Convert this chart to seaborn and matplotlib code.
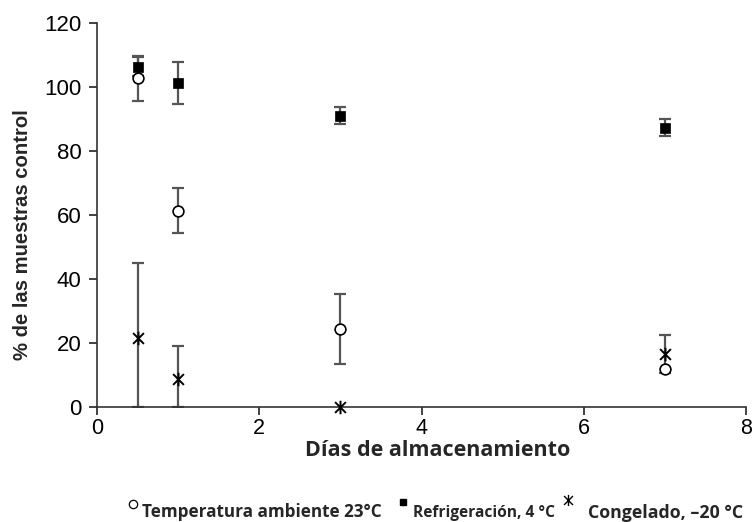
import matplotlib
matplotlib.use("Agg")
import matplotlib.pyplot as plt
from matplotlib.lines import Line2D
from matplotlib.path import Path
import seaborn as sns
import pandas as pd
import numpy as np

# ---- data ----
dias = [0.5, 1, 3, 7]
temp_ambiente = [102.7, 61.4, 24.3, 12.0]
temp_ambiente_err = [7.0, 7.0, 11.0, 0.0]
refrigeracion = [106.3, 101.3, 91.0, 87.3]
refrigeracion_err = [3.0, 6.5, 2.7, 2.7]
congelado = [21.5, 8.8, 0.0, 16.6]
congelado_err = [23.5, 10.3, 0.0, 6.0]

x_ticks = [0, 2, 4, 6, 8]
y_ticks = [0, 20, 40, 60, 80, 100, 120]

etiqueta_x = "Días de almacenamiento"
etiqueta_y = "% de las muestras control"
etiqueta_temp = "Temperatura ambiente 23°C"
etiqueta_refr = "Refrigeración, 4 °C"
etiqueta_cong = "Congelado, \u201320 °C"

sns.set_style("ticks")
plt.rcParams["font.family"] = ["Liberation Sans", "DejaVu Sans"]

# asterisk-like marker: an X with a vertical stroke
asterisco = Path([(-1, -1), (1, 1), (-1, 1), (1, -1), (0, -1.25), (0, 1.25)],
                 [Path.MOVETO, Path.LINETO, Path.MOVETO, Path.LINETO, Path.MOVETO, Path.LINETO])

fig = plt.figure(figsize=(7.54, 5.22), dpi=100)
ax = fig.add_axes([97 / 754, 1 - 407 / 522, 649 / 754, 384 / 522])

series = [
    (temp_ambiente, temp_ambiente_err, dict(marker="o", color="white", edgecolor="black", linewidth=1.2, s=60)),
    (refrigeracion, refrigeracion_err, dict(marker="s", color="black", edgecolor="black", linewidth=0.5, s=42)),
    (congelado, congelado_err, dict(marker=asterisco, color="black", edgecolor="black", linewidth=1.4, s=95)),
]

for vals, errs, kw in series:
    v = np.array(vals)
    e = np.array(errs)
    lower = np.minimum(e, v)
    mask = e > 0
    if mask.any():
        ax.errorbar(np.array(dias)[mask], v[mask], yerr=[lower[mask], e[mask]],
                    fmt="none", ecolor="#555555", elinewidth=1.6, capsize=4.2,
                    capthick=1.6, zorder=2)
    df = pd.DataFrame({"dias": dias, "valor": vals})
    sns.scatterplot(data=df, x="dias", y="valor", ax=ax, zorder=3, clip_on=False, legend=False, **kw)

ax.set_xlim(0, 8)
ax.set_ylim(0, 120)
ax.set_xticks(x_ticks)
ax.set_yticks(y_ticks)
ax.tick_params(axis="both", labelsize=16, length=6, width=1.2, colors="#222222",
               labelcolor="black", direction="out")
ax.tick_params(axis="y", pad=5)
ax.tick_params(axis="x", pad=2, labelsize=15.5)
for s in ["left", "bottom"]:
    ax.spines[s].set_linewidth(1.2)
    ax.spines[s].set_color("#333333")
ax.spines["top"].set_visible(False)
ax.spines["right"].set_visible(False)
ax.set_xlabel("")
ax.set_ylabel("")

def fx(px):
    return px / 754
def fy(py):
    return 1 - py / 522

fig.text(fx(438), fy(440), etiqueta_x, fontsize=15.5, fontweight="bold",
         family=["Open Sans", "DejaVu Sans"], ha="center", va="top")
fig.text(fx(23), fy(235), etiqueta_y, fontsize=14.6, fontweight="bold",
         rotation=90, ha="center", va="center")

# ---- legend at the bottom ----
leg_font = ["Open Sans", "DejaVu Sans"]
fig.add_artist(Line2D([fx(133)], [fy(504)], marker="o", markersize=6, markerfacecolor="white",
                      markeredgecolor="black", markeredgewidth=0.9, transform=fig.transFigure))
fig.text(fx(142), fy(512), etiqueta_temp, fontsize=12.3, fontweight="bold", family=leg_font, va="center", ha="left")
fig.add_artist(Line2D([fx(403)], [fy(502)], marker="s", markersize=4.5, color="black", transform=fig.transFigure))
fig.text(fx(413), fy(513), etiqueta_refr, fontsize=11.2, fontweight="bold", family=leg_font, va="center", ha="left")
fig.add_artist(Line2D([fx(568)], [fy(500)], marker=asterisco, markersize=8, color="black",
                      markeredgewidth=1.0, transform=fig.transFigure))
fig.text(fx(588), fy(513), etiqueta_cong, fontsize=12.8, fontweight="bold", family=leg_font, va="center", ha="left")

fig.savefig("out.png", dpi=100, facecolor="white")
